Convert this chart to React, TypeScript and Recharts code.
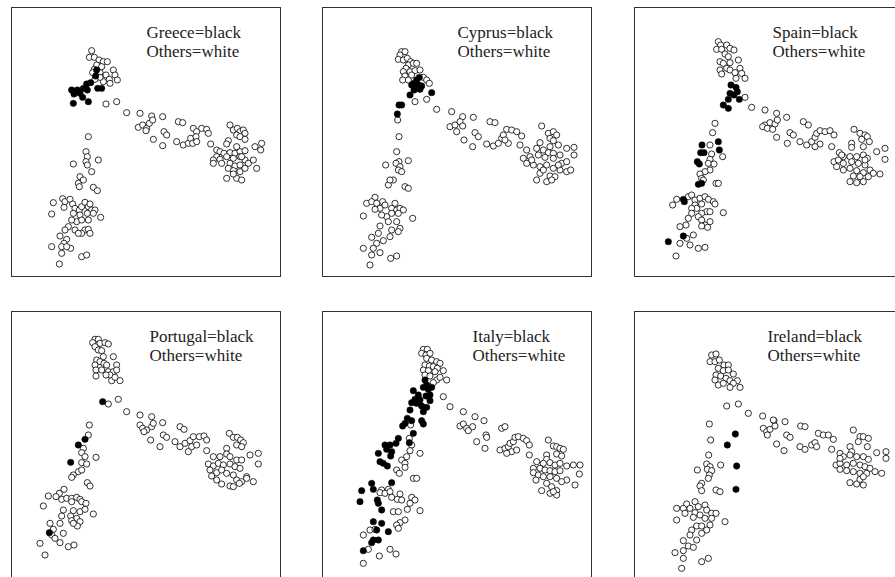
import { Scatter, ScatterChart, XAxis, YAxis } from "recharts";

type Pt = [number, number];

// Point positions (picture units, y grows downward)
const greeceOthers: Pt[] = [
  [275,152],[268,172],[283,172],[297,180],[310,185],[322,185],[290,195],[305,200],[283,208],[300,218],
  [278,218],[318,225],[340,210],[345,225],[352,240],[328,238],[310,245],[300,232],[285,238],[330,250],
  [318,312],[350,305],[380,338],[420,340],[455,348],[488,350],
  [415,382],[428,375],[440,385],[438,392],[448,370],[458,360],[460,418],[488,437],[492,395],[500,405],
  [535,365],[548,368],[530,425],[550,435],[565,430],[572,415],[580,385],[590,395],[588,410],[605,385],
  [620,388],[625,400],[578,430],[590,425],[632,432],
  [690,375],[700,390],[712,385],[720,395],[730,390],[735,400],[710,405],[720,410],[735,418],[685,422],
  [680,432],[650,450],[660,455],[672,460],[690,458],[705,460],[720,455],[735,452],[650,470],[640,480],
  [660,478],[680,470],[700,475],[720,470],[735,480],[745,490],[690,490],[705,498],[720,495],[665,490],
  [640,490],[685,505],[700,512],[720,515],[735,505],[770,505],[680,535],[710,535],[725,540],[700,522],
  [765,440],[785,430],[782,450],[725,470],[710,440],[760,480],
  [265,410],[258,455],[262,470],[258,485],[262,495],[275,515],[220,492],[295,480],[240,530],[235,550],
  [238,560],[250,540],[280,562],[292,572],
  [160,608],[188,596],[195,605],[192,622],[210,598],[218,612],[225,625],[238,630],[245,620],[255,607],
  [265,620],[270,612],[275,630],[285,630],[280,640],[262,640],[240,645],[220,640],[155,642],[302,652],
  [230,665],[215,660],[265,660],[245,660],[205,680],[195,690],[255,690],[265,688],[245,700],[270,700],
  [180,708],[200,718],[192,730],[185,740],[155,740],[212,745],[185,760],[245,770],[260,765],[178,792],
  [200,740],[225,690],[235,700],
];
const greeceBlack: Pt[] = [
  [290,210],[287,228],[272,248],[260,252],[250,265],[232,270],[215,270],[222,282],[240,280],[248,292],
  [265,305],[220,310],[293,265],[305,265],[262,270],
];

const cyprusOthers: Pt[] = [
  [245,155],[255,155],[240,165],[235,178],[250,180],[262,175],[272,185],[265,195],[280,190],[290,190],
  [258,205],[250,215],[270,215],[285,212],[300,210],[255,228],[248,240],[265,240],[275,225],[310,232],
  [320,240],[328,250],[285,305],[320,298],[233,360],[350,328],[395,335],[428,350],[460,352],
  [237,410],[230,455],[237,485],[228,490],[265,482],[240,500],[235,510],[245,515],[197,495],[220,540],
  [205,555],[210,540],[255,560],[265,565],
  [165,592],[140,610],[155,605],[170,610],[188,605],[180,625],[165,628],[195,615],[225,610],[215,625],
  [230,630],[240,625],[250,630],[235,640],[215,640],[200,650],[185,645],[130,648],[278,655],[205,665],
  [230,665],[180,678],[240,685],[215,690],[235,695],[175,700],[210,710],[155,712],[190,722],[170,730],
  [130,745],[160,745],[180,758],[155,765],[212,775],[230,768],[150,795],
  [390,380],[405,375],[420,365],[428,378],[410,395],[432,420],[458,440],[465,398],[475,410],[510,365],
  [525,368],[500,432],[520,438],[535,430],[545,415],[550,405],[560,388],[575,390],[590,395],[605,408],
  [565,430],[555,420],[600,435],
  [665,378],[685,400],[700,395],[710,405],[690,415],[700,422],[660,428],[715,435],[690,440],[650,445],
  [670,450],[685,458],[700,460],[720,465],[740,445],[762,442],[762,465],[620,450],[610,475],[630,470],
  [655,465],[675,472],[700,475],[725,490],[740,485],[620,490],[640,495],[660,500],[680,495],[700,505],
  [720,510],[740,515],[752,510],[660,520],[690,528],[705,530],[650,540],[680,545],[695,540],[670,510],
  [635,480],[715,495],
];
const cyprusBlack: Pt[] = [
  [298,232],[290,240],[282,250],[275,255],[295,255],[305,258],[290,265],[282,270],[300,268],[270,285],
  [335,278],[237,315],[245,315],[232,342],
];

const spainOthers: Pt[] = [
  [265,125],[272,135],[260,148],[275,148],[290,135],[300,145],[312,150],[285,162],[295,170],[270,185],
  [280,190],[300,188],[325,180],[290,205],[270,210],[275,222],[300,210],[315,218],[330,205],[335,220],
  [345,235],[318,235],[345,292],[365,322],[405,330],[440,340],[470,352],
  [255,370],[248,398],[240,435],[278,470],[245,462],[240,478],[235,490],[252,492],[240,510],[225,515],
  [210,522],[215,535],[258,550],[265,550],[220,540],
  [140,598],[128,615],[175,590],[185,585],[195,600],[210,595],[225,590],[235,598],[250,605],[255,612],
  [215,612],[195,615],[200,625],[185,625],[230,635],[240,635],[215,640],[185,640],[280,638],[205,650],
  [175,655],[215,660],[240,665],[225,675],[215,678],[233,682],[168,675],[150,680],[190,705],[170,715],
  [150,730],[180,735],[205,745],[225,742],[138,768],
  [405,375],[420,368],[435,372],[442,360],[398,380],[412,385],[428,388],[440,412],[472,430],[480,398],
  [490,405],[520,365],[535,375],[510,425],[530,435],[545,425],[555,412],[560,400],[570,392],[585,395],
  [600,392],[612,405],[570,432],[555,440],[605,440],
  [672,388],[690,400],[705,405],[712,410],[695,418],[718,425],[665,430],[665,442],[700,440],[628,458],
  [640,470],[660,470],[680,470],[700,465],[712,475],[740,455],[765,445],[765,478],[612,485],[625,480],
  [640,490],[665,485],[685,490],[705,495],[720,510],[730,520],[750,522],[620,500],[640,510],[660,505],
  [680,512],[700,518],[670,528],[690,530],[660,545],[680,548],[700,545],[715,530],[635,465],[705,480],
];
const spainBlack: Pt[] = [
  [303,255],[318,262],[322,275],[300,280],[312,285],[295,298],[280,315],[295,325],[328,298],[216,435],
  [265,425],[212,458],[222,458],[268,450],[202,485],[208,492],[205,553],[215,550],[160,598],[163,605],
  [115,725],[160,708],
];

const portugalOthers: Pt[] = [
  [285,118],[295,118],[278,128],[300,130],[315,128],[325,132],[285,140],[295,150],[305,152],[310,170],
  [340,170],[290,180],[300,185],[312,190],[320,195],[285,195],[350,195],[288,210],[305,210],[325,215],
  [340,215],[350,210],[330,225],[318,225],[288,228],[335,242],[360,242],[345,232],
  [325,312],[355,298],[380,335],[420,345],[455,350],[488,368],
  [268,375],[265,405],[250,445],[245,458],[255,470],[245,488],[260,492],[288,472],[235,515],[245,510],
  [220,525],[215,532],[262,548],[270,558],
  [192,568],[178,580],[145,588],[168,590],[185,598],[200,595],[215,595],[230,592],[240,598],[245,605],
  [258,610],[130,618],[215,605],[190,630],[220,632],[240,635],[255,628],[185,648],[212,648],[230,655],
  [280,642],[150,670],[180,670],[215,662],[240,665],[232,678],[220,670],[160,688],[190,700],[155,705],
  [165,715],[180,728],[120,730],[205,740],[222,735],[135,765],
  [420,375],[428,385],[440,390],[432,395],[455,380],[460,370],[452,420],[480,440],[490,405],[500,412],
  [540,380],[552,388],[525,425],[540,440],[555,430],[570,422],[580,410],[575,440],[590,435],[598,410],
  [612,408],[620,420],[620,452],[565,455],
  [688,400],[700,412],[712,412],[722,420],[730,428],[710,435],[725,440],[680,445],[680,462],[640,470],
  [660,470],[690,470],[710,480],[725,480],[750,465],[775,460],[775,492],[625,492],[640,498],[655,490],
  [670,495],[690,492],[705,500],[720,505],[740,530],[760,545],[630,510],[650,518],[665,510],[680,520],
  [700,525],[710,540],[725,545],[740,535],[665,552],[690,558],[700,560],[718,550],[650,540],[635,528],
];
const portugalBlack: Pt[] = [[308,305],[255,418],[235,435],[212,487],[148,698]];

const italyOthers: Pt[] = [
  [310,148],[322,148],[305,160],[318,165],[330,160],[320,175],[335,180],[350,185],[360,190],[315,195],
  [328,198],[340,200],[352,205],[310,210],[325,212],[345,215],[370,212],[315,225],[330,228],[350,240],
  [380,240],[360,232],[340,248],[370,290],[390,320],[430,335],
  [272,375],[268,415],[275,435],[270,452],[300,460],[260,470],[245,480],[255,490],[230,510],[238,520],
  [255,502],[280,535],[290,535],
  [185,570],[205,568],[180,578],[195,580],[210,575],[240,582],[215,592],[232,598],[245,600],[275,592],
  [285,600],[270,610],[300,632],[220,635],[235,635],[262,628],[255,660],[240,668],[230,675],[235,685],
  [130,705],[150,690],[165,688],[145,748],[178,768],[210,748],[228,762],[130,790],
  [420,378],[430,372],[440,385],[445,392],[458,380],[465,350],[492,362],[470,425],[498,405],[500,412],
  [495,445],[545,385],[555,380],[540,450],[555,445],[565,440],[570,430],[580,425],[585,412],[595,410],
  [610,415],[620,422],[628,435],[628,465],[575,455],[560,460],[590,450],
  [685,420],[700,438],[710,440],[720,445],[730,448],[710,462],[725,468],[680,465],[680,478],[650,485],
  [670,490],[690,488],[705,495],[720,490],[740,498],[760,495],[780,495],[778,522],[640,505],[660,505],
  [675,510],[690,512],[705,515],[720,512],[740,540],[765,555],[640,518],[655,525],[670,530],[690,530],
  [710,535],[725,545],[680,550],[695,560],[710,572],[665,572],[690,580],[710,585],[700,575],[648,540],
];
const italyBlack: Pt[] = [
  [315,240],[320,255],[310,262],[325,268],[335,262],[280,272],[295,285],[318,288],[330,285],[285,298],
  [300,300],[290,310],[305,318],[275,308],[330,302],[320,322],[310,335],[270,330],[262,355],[255,370],
  [248,378],[275,362],[305,362],[310,372],[280,400],
  [235,415],[228,430],[210,435],[195,435],[200,448],[215,455],[212,468],[175,460],[180,485],[190,490],
  [202,498],[268,428],[215,548],[155,550],[160,568],[125,572],[120,605],[172,600],[175,610],[185,630],
  [160,665],[170,690],[185,670],[205,695],[160,720],[155,728],[130,752],[175,720],
];

const irelandOthers: Pt[] = [
  [245,165],[258,162],[240,185],[255,185],[268,180],[282,195],[295,195],[265,205],[280,212],[295,210],
  [310,222],[258,225],[272,228],[288,235],[255,240],[300,242],[322,242],[310,250],[265,255],[280,250],
  [300,262],[330,262],[290,318],[325,312],[355,340],[398,348],[432,362],[465,365],
  [238,372],[242,420],[236,465],[230,492],[240,500],[272,495],[202,510],[232,508],[245,512],[238,525],
  [235,535],[215,550],[210,558],[215,572],[258,570],[270,575],
  [195,605],[170,612],[140,625],[160,625],[180,625],[205,620],[225,615],[165,640],[195,638],[210,645],
  [230,630],[245,640],[258,640],[140,660],[190,652],[225,655],[245,655],[285,665],[200,678],[215,678],
  [185,690],[240,675],[230,690],[215,700],[180,705],[160,722],[200,720],[175,738],[190,742],[160,752],
  [135,758],[160,775],[215,785],[235,775],[155,805],
  [400,385],[410,395],[420,388],[435,378],[430,360],[412,405],[440,432],[462,452],[470,405],[480,412],
  [512,378],[525,380],[510,440],[525,448],[545,435],[555,428],[565,400],[580,405],[595,405],[610,418],
  [560,440],[605,448],[630,460],
  [670,390],[690,410],[700,410],[715,415],[685,425],[712,440],[660,440],[665,455],[640,470],[660,465],
  [680,470],[700,470],[715,478],[740,458],[768,455],[768,475],[618,495],[630,490],[650,495],[670,490],
  [690,495],[705,500],[720,505],[735,515],[755,520],[630,508],[650,512],[670,515],[690,520],[710,520],
  [660,548],[680,552],[700,555],[690,538],[700,530],[630,475],
];
const irelandBlack: Pt[] = [[316,402],[292,435],[320,498],[318,568]];

const SIZE = 270;
const SPAN = 810;

const panels = [
  { name: "Greece", others: greeceOthers, black: greeceBlack, left: 11, top: 7, ox: 33, oy: 21, tx: 136 },
  { name: "Cyprus", others: cyprusOthers, black: cyprusBlack, left: 322, top: 7, ox: 6, oy: 21, tx: 136 },
  { name: "Spain", others: spainOthers, black: spainBlack, left: 634, top: 7, ox: 12, oy: 21, tx: 139 },
  { name: "Portugal", others: portugalOthers, black: portugalBlack, left: 11, top: 311, ox: 33, oy: 33, tx: 139 },
  { name: "Italy", others: italyOthers, black: italyBlack, left: 322, top: 311, ox: 6, oy: 33, tx: 151 },
  { name: "Ireland", others: irelandOthers, black: irelandBlack, left: 634, top: 311, ox: 12, oy: 33, tx: 134 },
];

const toRows = (pts: Pt[]) => pts.map(([x, y]) => ({ x, y }));

const WhiteDot = (props: any) => (
  <circle cx={props.cx} cy={props.cy} r={3.1} fill="#fff" stroke="#000" strokeWidth={0.8} />
);
const BlackDot = (props: any) => (
  <circle cx={props.cx} cy={props.cy} r={3.2} fill="#000" stroke="#000" strokeWidth={0.5} />
);

const Panel = ({ p }: { p: (typeof panels)[number] }) => (
  <div
    style={{
      position: "absolute",
      left: p.left,
      top: p.top,
      width: SIZE,
      height: SIZE,
      boxSizing: "border-box",
      border: "1.5px solid #333",
    }}
  >
    <div style={{ position: "absolute", left: -1.5, top: -1.5 }}>
      <ScatterChart width={SIZE} height={SIZE} margin={{ top: 0, right: 0, bottom: 0, left: 0 }}>
        <XAxis type="number" dataKey="x" domain={[p.ox, p.ox + SPAN]} hide />
        <YAxis type="number" dataKey="y" domain={[p.oy, p.oy + SPAN]} reversed hide />
        <Scatter data={toRows(p.others)} shape={WhiteDot} isAnimationActive={false} />
        <Scatter data={toRows(p.black)} shape={BlackDot} isAnimationActive={false} />
      </ScatterChart>
    </div>
    <div
      style={{
        position: "absolute",
        left: p.tx - 1.5,
        top: 15,
        fontFamily: "'Liberation Serif', serif",
        fontSize: 17,
        lineHeight: "19px",
        color: "#222",
        whiteSpace: "nowrap",
      }}
    >
      <div>{p.name}=black</div>
      <div>Others=white</div>
    </div>
  </div>
);

export default function App() {
  return (
    <div
      style={{
        position: "absolute",
        left: 0,
        top: 0,
        width: 895,
        height: 577,
        overflow: "hidden",
        background: "#fff",
      }}
    >
      {panels.map((p) => (
        <Panel key={p.name} p={p} />
      ))}
    </div>
  );
}
